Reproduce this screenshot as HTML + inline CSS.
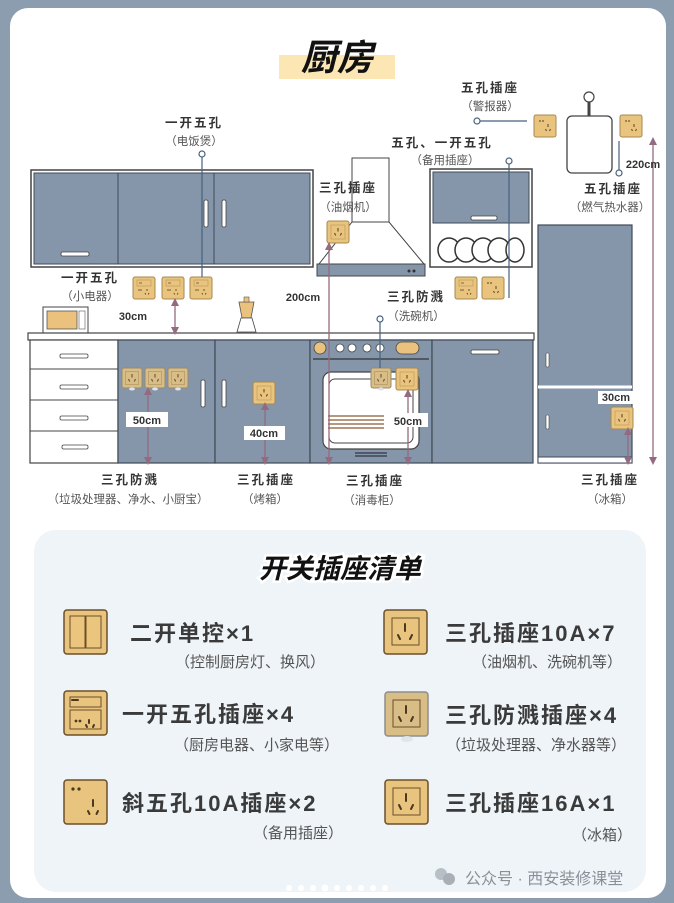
<!DOCTYPE html>
<html><head><meta charset="utf-8">
<style>
html,body{margin:0;padding:0;background:#8d9db0;}
svg{display:block;}
text{font-family:"Liberation Sans","Noto Sans CJK SC",sans-serif;}
.h{font-weight:bold;font-size:12.5px;fill:#333;letter-spacing:2px;}
.s{font-size:11.5px;fill:#555;}
.cm{font-weight:bold;font-size:11px;fill:#333;}
.big{font-weight:bold;font-size:22px;fill:#3a3a3a;letter-spacing:2px;}
.sub{font-size:15px;fill:#555;}
</style></head><body>
<svg width="674" height="903" viewBox="0 0 674 903" xmlns="http://www.w3.org/2000/svg">
<defs>
  <g id="s3">
    <rect x="0" y="0" width="22" height="22" rx="2" fill="#e9c47e" stroke="#a9884f" stroke-width="1"/>
    <rect x="4" y="4" width="14" height="14" fill="none" stroke="#b89458" stroke-width="0.6"/>
    <line x1="11" y1="7" x2="11" y2="10.5" stroke="#6b5230" stroke-width="1.2"/>
    <line x1="7.5" y1="12" x2="8.7" y2="14.5" stroke="#6b5230" stroke-width="1.2"/>
    <line x1="14.5" y1="12" x2="13.3" y2="14.5" stroke="#6b5230" stroke-width="1.2"/>
  </g>
  <g id="s5">
    <rect x="0" y="0" width="22" height="22" rx="2" fill="#e9c47e" stroke="#a9884f" stroke-width="1"/>
    <circle cx="6" cy="6" r="0.9" fill="#6b5230"/><circle cx="9" cy="6" r="0.9" fill="#6b5230"/>
    <line x1="14" y1="9" x2="14" y2="12" stroke="#6b5230" stroke-width="1.1"/>
    <line x1="11.5" y1="14" x2="12.5" y2="16" stroke="#6b5230" stroke-width="1.1"/>
    <line x1="16.5" y1="14" x2="15.5" y2="16" stroke="#6b5230" stroke-width="1.1"/>
  </g>
  <g id="s15">
    <rect x="0" y="0" width="22" height="22" rx="2" fill="#e9c47e" stroke="#a9884f" stroke-width="1"/>
    <rect x="4" y="3" width="14" height="6" fill="none" stroke="#b89458" stroke-width="0.6"/>
    <line x1="6" y1="6" x2="9" y2="6" stroke="#6b5230" stroke-width="0.8"/>
    <circle cx="6" cy="13" r="0.8" fill="#6b5230"/><circle cx="8" cy="13" r="0.8" fill="#6b5230"/>
    <line x1="14" y1="12" x2="14" y2="14" stroke="#6b5230" stroke-width="1"/>
    <line x1="12" y1="16" x2="12.7" y2="17.5" stroke="#6b5230" stroke-width="1"/>
    <line x1="16" y1="16" x2="15.3" y2="17.5" stroke="#6b5230" stroke-width="1"/>
  </g>
  <g id="sp">
    <rect x="0" y="0" width="20" height="20" rx="2" fill="#d8bd86" stroke="#9a8a6a" stroke-width="1"/>
    <rect x="3.5" y="3.5" width="13" height="13" fill="none" stroke="#a89060" stroke-width="0.6"/>
    <line x1="10" y1="6" x2="10" y2="9.5" stroke="#6b5230" stroke-width="1.1"/>
    <line x1="6.5" y1="11" x2="7.7" y2="13.5" stroke="#6b5230" stroke-width="1.1"/>
    <line x1="13.5" y1="11" x2="12.3" y2="13.5" stroke="#6b5230" stroke-width="1.1"/>
    <ellipse cx="10" cy="21" rx="3" ry="1.5" fill="#dde3ea"/>
  </g>
  <marker id="ar" markerWidth="8" markerHeight="8" refX="4" refY="4" orient="auto-start-reverse" markerUnits="userSpaceOnUse">
    <path d="M0,0 L8,4 L0,8 Z" fill="#946a80"/>
  </marker>
</defs>

<!-- card -->
<rect x="10" y="8" width="656" height="890" rx="18" fill="#ffffff"/>

<!-- title -->
<rect x="279" y="55" width="116" height="24" fill="#fbe6b4"/>
<text x="337" y="70" text-anchor="middle" font-size="36" font-weight="bold" font-style="italic" fill="#111" style="font-family:'Noto Sans CJK SC',sans-serif">厨房</text>

<!-- upper cabinets -->
<rect x="31" y="170" width="282" height="97" fill="#fff" stroke="#444" stroke-width="1.5"/>
<rect x="34" y="173" width="84" height="91" fill="#8596ab" stroke="#3f4a58" stroke-width="1"/>
<rect x="118" y="173" width="96" height="91" fill="#8596ab" stroke="#3f4a58" stroke-width="1"/>
<rect x="214" y="173" width="96" height="91" fill="#8596ab" stroke="#3f4a58" stroke-width="1"/>
<rect x="61" y="252" width="28" height="4" rx="1.5" fill="#fff" stroke="#444" stroke-width="0.8"/>
<rect x="204" y="200" width="4" height="27" rx="1.5" fill="#fff" stroke="#444" stroke-width="0.8"/>
<rect x="222" y="200" width="4" height="27" rx="1.5" fill="#fff" stroke="#444" stroke-width="0.8"/>

<!-- hood -->
<rect x="352" y="158" width="37" height="64" fill="#fff" stroke="#444" stroke-width="1"/>
<path d="M352,222 L389,222 L424,264 L319,264 Z" fill="#fff" stroke="#444" stroke-width="1"/>
<rect x="317" y="264" width="108" height="12" fill="#8596ab" stroke="#444" stroke-width="1"/>
<circle cx="409" cy="271" r="1.5" fill="#333"/><circle cx="414" cy="271" r="1.5" fill="#333"/>

<!-- right upper cabinet -->
<rect x="430" y="169" width="102" height="98" fill="#fff" stroke="#444" stroke-width="1.5"/>
<rect x="433" y="172" width="96" height="51" fill="#8596ab" stroke="#3f4a58" stroke-width="1"/>
<rect x="471" y="216" width="26" height="4" rx="1.5" fill="#fff" stroke="#444" stroke-width="0.8"/>
<g fill="#fff" stroke="#333" stroke-width="1.5">
<ellipse cx="449" cy="250" rx="11" ry="12"/><ellipse cx="466" cy="250" rx="11" ry="12"/>
<ellipse cx="483" cy="250" rx="11" ry="12"/><ellipse cx="499" cy="250" rx="11" ry="12"/>
<ellipse cx="515" cy="250" rx="9" ry="12"/>
</g>

<!-- water heater -->
<line x1="589" y1="102" x2="589" y2="116" stroke="#444" stroke-width="3"/>
<circle cx="589" cy="97" r="5" fill="#fff" stroke="#444" stroke-width="1.2"/>
<rect x="567" y="116" width="45" height="57" rx="5" fill="#fff" stroke="#444" stroke-width="1.3"/>

<!-- fridge -->
<rect x="538" y="225" width="94" height="238" fill="#8596ab" stroke="#3f4a58" stroke-width="1.2"/>
<line x1="538" y1="387" x2="632" y2="387" stroke="#fff" stroke-width="3"/>
<rect x="538" y="457" width="94" height="6" fill="#fff" stroke="#3f4a58" stroke-width="1"/>
<rect x="546" y="353" width="3" height="14" rx="1" fill="#fff" stroke="#444" stroke-width="0.6"/>
<rect x="546" y="415" width="3" height="14" rx="1" fill="#fff" stroke="#444" stroke-width="0.6"/>

<!-- microwave & blender -->
<rect x="43" y="307" width="45" height="26" fill="#fff" stroke="#444" stroke-width="1"/>
<rect x="47" y="311" width="30" height="18" fill="#ebc27d" stroke="#555" stroke-width="0.8"/>
<rect x="79" y="311" width="6" height="18" fill="#fff" stroke="#555" stroke-width="0.6"/>
<path d="M239,302 L254,302 L251,318 L242,318 Z" fill="#ebc27d" stroke="#555" stroke-width="0.8"/>
<rect x="244" y="297" width="5" height="5" fill="#ebc27d" stroke="#555" stroke-width="0.6"/>
<path d="M241,318 L252,318 L256,332 L237,332 Z" fill="#fff" stroke="#444" stroke-width="0.8"/>

<!-- counter -->
<rect x="28" y="333" width="506" height="7" fill="#fff" stroke="#444" stroke-width="1.2"/>

<!-- lower cabinets -->
<rect x="30" y="340" width="88" height="123" fill="#fff" stroke="#444" stroke-width="1.2"/>
<line x1="30" y1="369" x2="118" y2="369" stroke="#444"/><line x1="30" y1="400" x2="118" y2="400" stroke="#444"/><line x1="30" y1="431" x2="118" y2="431" stroke="#444"/>
<g fill="#fff" stroke="#444" stroke-width="0.8">
<rect x="60" y="354" width="28" height="4" rx="1.5"/><rect x="60" y="385" width="28" height="4" rx="1.5"/>
<rect x="60" y="416" width="28" height="4" rx="1.5"/><rect x="62" y="445" width="26" height="4" rx="1.5"/>
</g>
<rect x="118" y="340" width="97" height="123" fill="#8596ab" stroke="#3f4a58" stroke-width="1.2"/>
<rect x="215" y="340" width="95" height="123" fill="#8596ab" stroke="#3f4a58" stroke-width="1.2"/>
<rect x="310" y="340" width="122" height="123" fill="#8596ab" stroke="#3f4a58" stroke-width="1.2"/>
<rect x="432" y="340" width="101" height="123" fill="#8596ab" stroke="#3f4a58" stroke-width="1.2"/>
<rect x="201" y="380" width="4" height="27" rx="1.5" fill="#fff" stroke="#444" stroke-width="0.8"/>
<rect x="222" y="380" width="4" height="27" rx="1.5" fill="#fff" stroke="#444" stroke-width="0.8"/>
<rect x="471" y="350" width="28" height="4" rx="1.5" fill="#fff" stroke="#444" stroke-width="0.8"/>
<!-- oven -->
<circle cx="320" cy="348" r="6" fill="#ebc27d" stroke="#444" stroke-width="0.8"/>
<g fill="#fff" stroke="#444" stroke-width="0.8">
<circle cx="340" cy="348" r="4"/><circle cx="352" cy="348" r="4"/><circle cx="367" cy="348" r="4"/><circle cx="380" cy="348" r="4"/>
</g>
<rect x="396" y="342" width="23" height="12" rx="6" fill="#ebc27d" stroke="#444" stroke-width="0.8"/>
<line x1="313" y1="359" x2="429" y2="359" stroke="#333" stroke-width="1.2"/>
<rect x="323" y="372" width="96" height="77" rx="8" fill="#fff" stroke="#444" stroke-width="1.2"/>
<rect x="329" y="379" width="84" height="64" rx="6" fill="none" stroke="#444" stroke-width="1"/>
<g stroke="#8a5a30" stroke-width="1.2"><line x1="328" y1="416" x2="384" y2="416"/><line x1="328" y1="420" x2="384" y2="420"/><line x1="328" y1="424" x2="384" y2="424"/><line x1="328" y1="428" x2="384" y2="428"/></g>
<g stroke="#334" stroke-width="1.2"><line x1="355" y1="453" x2="387" y2="453"/><line x1="355" y1="456" x2="387" y2="456"/></g>

<!-- sockets -->
<use href="#s15" x="133" y="277"/><use href="#s15" x="162" y="277"/><use href="#s15" x="190" y="277"/>
<use href="#s3" x="327" y="221"/>
<use href="#s15" x="455" y="277"/><use href="#s5" x="482" y="277"/>
<use href="#s5" x="534" y="115"/><use href="#s5" x="620" y="115"/>
<use href="#sp" x="122" y="368"/><use href="#sp" x="145" y="368"/><use href="#sp" x="168" y="368"/>
<use href="#s3" x="253" y="382"/>
<use href="#sp" x="371" y="368"/><use href="#s3" x="396" y="368"/>
<use href="#s3" x="611" y="407"/>

<!-- leader lines -->
<g stroke="#46617d" stroke-width="1.2" fill="#fff">
<line x1="202" y1="157" x2="202" y2="277"/><circle cx="202" cy="154" r="3"/>
<line x1="509" y1="164" x2="509" y2="298"/><circle cx="509" cy="161" r="3"/>
<line x1="480" y1="121" x2="527" y2="121"/><circle cx="477" cy="121" r="3"/>
<line x1="619" y1="141" x2="619" y2="170"/><circle cx="619" cy="173" r="3"/>
<line x1="380" y1="322" x2="380" y2="368"/><circle cx="380" cy="319" r="3"/>
</g>

<!-- dimension arrows -->
<g stroke="#946a80" stroke-width="1.3">
<line x1="175" y1="302" x2="175" y2="331" marker-start="url(#ar)" marker-end="url(#ar)"/>
<line x1="329" y1="246" x2="329" y2="461" marker-start="url(#ar)" marker-end="url(#ar)"/>
<line x1="653" y1="141" x2="653" y2="461" marker-start="url(#ar)" marker-end="url(#ar)"/>
<line x1="148" y1="391" x2="148" y2="461" marker-start="url(#ar)" marker-end="url(#ar)"/>
<line x1="265" y1="406" x2="265" y2="461" marker-start="url(#ar)" marker-end="url(#ar)"/>
<line x1="408" y1="393" x2="408" y2="461" marker-start="url(#ar)" marker-end="url(#ar)"/>
<line x1="628" y1="431" x2="628" y2="461" marker-start="url(#ar)" marker-end="url(#ar)"/>
</g>
<rect x="126" y="412" width="42" height="15" fill="#fff"/><text x="147" y="424" class="cm" text-anchor="middle">50cm</text>
<rect x="244" y="426" width="41" height="14" fill="#fff"/><text x="264" y="437" class="cm" text-anchor="middle">40cm</text>
<rect x="389" y="413" width="39" height="14" fill="#fff"/><text x="408" y="425" class="cm" text-anchor="middle">50cm</text>
<rect x="598" y="391" width="36" height="13" fill="#fff"/><text x="616" y="401" class="cm" text-anchor="middle">30cm</text>
<text x="133" y="320" class="cm" text-anchor="middle">30cm</text>
<text x="303" y="301" class="cm" text-anchor="middle">200cm</text>
<text x="643" y="168" class="cm" text-anchor="middle">220cm</text>

<!-- labels -->
<text x="194" y="127" class="h" text-anchor="middle">一开五孔</text>
<text x="194" y="145" class="s" text-anchor="middle">（电饭煲）</text>
<text x="490" y="92" class="h" text-anchor="middle">五孔插座</text>
<text x="490" y="110" class="s" text-anchor="middle">（警报器）</text>
<text x="442" y="147" class="h" text-anchor="middle">五孔、一开五孔</text>
<text x="445" y="164" class="s" text-anchor="middle">（备用插座）</text>
<text x="348" y="192" class="h" text-anchor="middle">三孔插座</text>
<text x="348" y="211" class="s" text-anchor="middle">（油烟机）</text>
<text x="613" y="193" class="h" text-anchor="middle">五孔插座</text>
<text x="610" y="211" class="s" text-anchor="middle">（燃气热水器）</text>
<text x="90" y="282" class="h" text-anchor="middle">一开五孔</text>
<text x="90" y="300" class="s" text-anchor="middle">（小电器）</text>
<text x="416" y="301" class="h" text-anchor="middle">三孔防溅</text>
<text x="416" y="320" class="s" text-anchor="middle">（洗碗机）</text>
<text x="130" y="484" class="h" text-anchor="middle">三孔防溅</text>
<text x="128" y="503" class="s" text-anchor="middle">（垃圾处理器、净水、小厨宝）</text>
<text x="266" y="484" class="h" text-anchor="middle">三孔插座</text>
<text x="265" y="503" class="s" text-anchor="middle">（烤箱）</text>
<text x="375" y="485" class="h" text-anchor="middle">三孔插座</text>
<text x="372" y="504" class="s" text-anchor="middle">（消毒柜）</text>
<text x="610" y="484" class="h" text-anchor="middle">三孔插座</text>
<text x="610" y="503" class="s" text-anchor="middle">（冰箱）</text>

<!-- list panel -->
<rect x="34" y="530" width="612" height="362" rx="22" fill="#eef4f8"/>
<text x="340" y="578" text-anchor="middle" font-size="27" font-weight="bold" font-style="italic" fill="#111" stroke="#fff" stroke-width="5" paint-order="stroke" style="font-family:'Noto Sans CJK SC',sans-serif">开关插座清单</text>

<!-- icons -->
<g stroke="#6b4f2a" stroke-width="1.5">
<rect x="64" y="610" width="43" height="44" rx="3" fill="#e9c47e"/>
<rect x="70" y="616" width="15" height="32" fill="#ebc47e" stroke-width="1"/><rect x="86" y="616" width="15" height="32" fill="#ebc47e" stroke-width="1"/>
<rect x="64" y="691" width="43" height="44" rx="3" fill="#e9c47e"/>
<rect x="64" y="780" width="43" height="44" rx="3" fill="#e9c47e"/>
<rect x="384" y="610" width="43" height="44" rx="3" fill="#e9c47e"/>
<rect x="385" y="692" width="43" height="44" rx="3" fill="#d8bd86" stroke="#8d8d8d"/>
<rect x="385" y="780" width="43" height="44" rx="3" fill="#e9c47e"/>
</g>
<ellipse cx="407" cy="739" rx="6" ry="3" fill="#dfe5ea"/>
<g stroke="#6b4f2a" stroke-width="1" fill="none">
<rect x="70" y="697" width="31" height="10"/><rect x="70" y="710" width="31" height="19"/>
<rect x="392" y="618" width="27" height="27"/><rect x="393" y="700" width="27" height="27"/><rect x="393" y="788" width="27" height="27"/>
</g>
<g stroke="#4b3a20" stroke-width="2" stroke-linecap="round">
<line x1="405" y1="624" x2="405" y2="631"/><line x1="398" y1="635" x2="400" y2="639"/><line x1="412" y1="635" x2="410" y2="639"/>
<line x1="406" y1="706" x2="406" y2="713"/><line x1="399" y1="717" x2="401" y2="721"/><line x1="413" y1="717" x2="411" y2="721"/>
<line x1="406" y1="794" x2="406" y2="801"/><line x1="399" y1="805" x2="401" y2="809"/><line x1="413" y1="805" x2="411" y2="809"/>
<line x1="93" y1="800" x2="93" y2="806"/><line x1="88" y1="811" x2="89.5" y2="814"/><line x1="98" y1="811" x2="96.5" y2="814"/>
<line x1="89" y1="720" x2="89" y2="723"/><line x1="86" y1="725" x2="87" y2="727"/><line x1="94" y1="725" x2="93" y2="727"/>
<line x1="72" y1="700" x2="78" y2="700"/>
</g>
<circle cx="73" cy="789" r="1.6" fill="#4b3a20"/><circle cx="79" cy="789" r="1.6" fill="#4b3a20"/>
<circle cx="76" cy="721" r="1.4" fill="#4b3a20"/><circle cx="80" cy="721" r="1.4" fill="#4b3a20"/>

<text x="130" y="641" class="big">二开单控×1</text>
<text x="175" y="667" class="sub">（控制厨房灯、换风）</text>
<text x="445" y="641" class="big">三孔插座10A×7</text>
<text x="472" y="667" class="sub">（油烟机、洗碗机等）</text>
<text x="122" y="722" class="big">一开五孔插座×4</text>
<text x="174" y="750" class="sub">（厨房电器、小家电等）</text>
<text x="445" y="723" class="big">三孔防溅插座×4</text>
<text x="446" y="750" class="sub">（垃圾处理器、净水器等）</text>
<text x="122" y="811" class="big">斜五孔10A插座×2</text>
<text x="253" y="838" class="sub">（备用插座）</text>
<text x="445" y="811" class="big">三孔插座16A×1</text>
<text x="572" y="840" class="sub">（冰箱）</text>

<!-- watermark -->
<circle cx="441" cy="874" r="6" fill="#b8bfc6"/><circle cx="449" cy="879" r="6" fill="#a8afb6"/>
<text x="465" y="884" font-size="16" fill="#8a9098">公众号 · 西安装修课堂</text>
<g fill="#fff"><circle cx="289" cy="888" r="3"/><circle cx="301" cy="888" r="3"/><circle cx="313" cy="888" r="3"/><circle cx="325" cy="888" r="3.5"/><circle cx="337" cy="888" r="3"/><circle cx="349" cy="888" r="3"/><circle cx="361" cy="888" r="3"/><circle cx="373" cy="888" r="3"/><circle cx="385" cy="888" r="3"/></g>
</svg>
</body></html>
